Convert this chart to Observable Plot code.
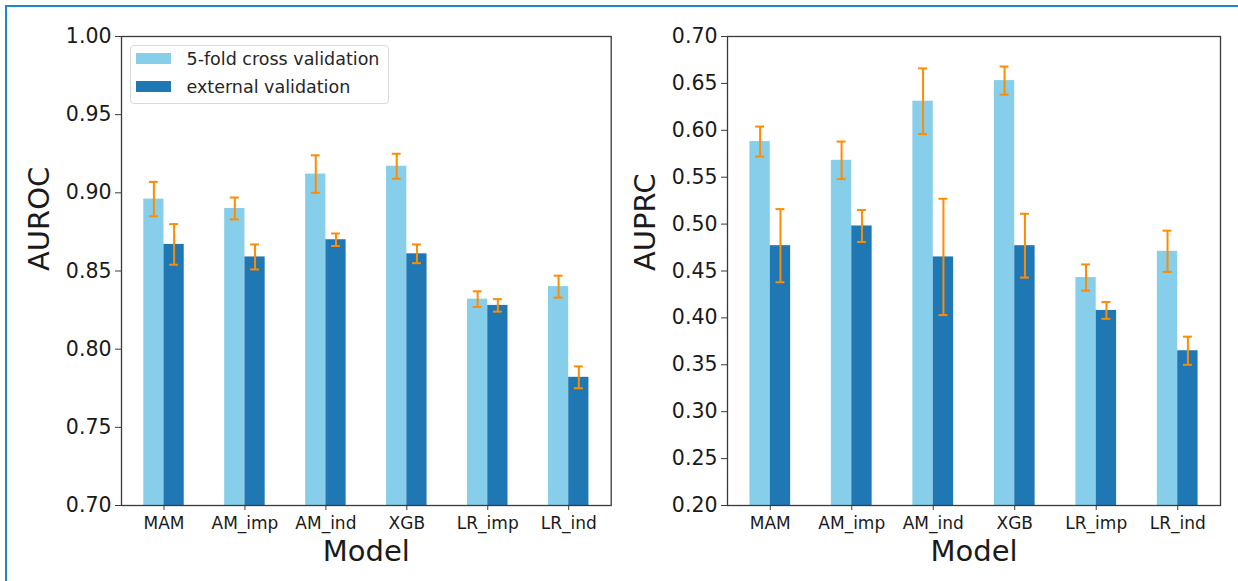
<!DOCTYPE html>
<html>
<head>
<meta charset="utf-8">
<script src="https://cdn.jsdelivr.net/npm/d3@7"></script>
<script src="https://cdn.jsdelivr.net/npm/@observablehq/plot@0.6"></script>
<style>
  body { margin: 0; background: #fff; font-family: "DejaVu Sans", sans-serif; }
  #wrap { position: relative; width: 1238px; height: 581px; overflow: hidden; background: #fff; }
  .bTop { position: absolute; left: 5px; top: 5px; width: 1233px; height: 2px; background: #1e88c8; }
  .bLeft { position: absolute; left: 5px; top: 5px; width: 2px; height: 576px; background: #1e88c8; }
  #left { position: absolute; left: 0; top: 0; }
  #right { position: absolute; left: 620px; top: 0; }
  .legend { position: absolute; left: 129.5px; top: 45px; width: 257px; height: 57px;
            border: 1px solid #d9d9d9; border-radius: 4px; background: rgba(255,255,255,0.85); }
  .sw { position: absolute; left: 136px; width: 35px; height: 11.5px; }
  .lt { position: absolute; left: 186.5px; font-size: 17.5px; color: #262626; line-height: 20px; white-space: nowrap; }
</style>
</head>
<body>
<div id="wrap">
  <div id="left"></div>
  <div id="right"></div>
  <div class="legend"></div>
  <div class="sw" id="sw0" style="top:52.7px;"></div>
  <div class="lt" id="lt0" style="top:48.5px;"></div>
  <div class="sw" id="sw1" style="top:80.7px;"></div>
  <div class="lt" id="lt1" style="top:76.5px;"></div>
  <div class="bTop"></div>
  <div class="bLeft"></div>
</div>
<script>
// ---- data ----
const models = ["MAM", "AM_imp", "AM_ind", "XGB", "LR_imp", "LR_ind"];
const seriesNames = ["5-fold cross validation", "external validation"];
const seriesColors = ["#87ceeb", "#1f77b4"];

const aurocCV     = [0.896, 0.890, 0.912, 0.917, 0.832, 0.840];
const aurocCVErr  = [0.011, 0.007, 0.012, 0.008, 0.005, 0.007];
const aurocExt    = [0.867, 0.859, 0.870, 0.861, 0.828, 0.782];
const aurocExtErr = [0.013, 0.008, 0.004, 0.006, 0.004, 0.007];

const auprcCV     = [0.588, 0.568, 0.631, 0.653, 0.443, 0.471];
const auprcCVErr  = [0.016, 0.020, 0.035, 0.015, 0.014, 0.022];
const auprcExt    = [0.477, 0.498, 0.465, 0.477, 0.408, 0.365];
const auprcExtErr = [0.039, 0.017, 0.062, 0.034, 0.009, 0.015];

const aurocTicks = [0.70, 0.75, 0.80, 0.85, 0.90, 0.95, 1.00];
const auprcTicks = [0.20, 0.25, 0.30, 0.35, 0.40, 0.45, 0.50, 0.55, 0.60, 0.65, 0.70];

// ---- chart builder ----
const BAR = 0.25, CAP = 0.055;
function buildRows(cv, cvErr, ext, extErr) {
  return models.flatMap((m, i) => [
    {model: m, series: seriesNames[0], x1: i - BAR, x2: i, v: cv[i], e: cvErr[i]},
    {model: m, series: seriesNames[1], x1: i, x2: i + BAR, v: ext[i], e: extErr[i]}
  ]);
}

function chart(rows, ticks, yLabel, w, mL, mR) {
  const c = d => (d.x1 + d.x2) / 2;
  const orange = "#ff8c00";
  return Plot.plot({
    width: w, height: 581,
    marginLeft: mL, marginRight: mR, marginTop: 36, marginBottom: 76,
    style: {fontFamily: "DejaVu Sans", color: "#1a1a1a", background: "transparent", overflow: "visible"},
    x: {type: "linear", domain: [-0.525, models.length - 1 + 0.525], axis: null},
    y: {domain: [ticks[0], ticks[ticks.length - 1]], axis: null},
    color: {domain: seriesNames, range: seriesColors},
    marks: [
      Plot.rect(rows, {x1: "x1", x2: "x2", y1: () => 0, y2: "v", fill: "series", clip: true}),
      Plot.ruleX(rows, {x: c, y1: d => d.v - d.e, y2: d => d.v + d.e, stroke: orange, strokeWidth: 2}),
      Plot.ruleY(rows, {y: d => d.v + d.e, x1: d => c(d) - CAP, x2: d => c(d) + CAP, stroke: orange, strokeWidth: 2}),
      Plot.ruleY(rows, {y: d => d.v - d.e, x1: d => c(d) - CAP, x2: d => c(d) + CAP, stroke: orange, strokeWidth: 2}),
      Plot.frame({stroke: "#3a3a3a", strokeWidth: 1.3}),
      Plot.axisX(models.map((m, i) => i), {tickFormat: i => models[i], fontSize: 17, tickSize: 5, tickPadding: 6, label: null, stroke: "#3a3a3a"}),
      Plot.axisY(ticks, {tickFormat: d3.format(".2f"), fontSize: 20.5, tickSize: 6, tickPadding: 4, label: null, stroke: "#3a3a3a"}),
      Plot.text(["Model"], {frameAnchor: "bottom", lineAnchor: "top", dy: 35, fontSize: 29, text: d => d, fill: "#1a1a1a"}),
      Plot.text([yLabel], {frameAnchor: "left", rotate: -90, dx: -82, fontSize: 29, text: d => d, fill: "#1a1a1a"})
    ]
  });
}

document.getElementById("left").append(
  chart(buildRows(aurocCV, aurocCVErr, aurocExt, aurocExtErr), aurocTicks, "AUROC", 620, 121, 9.3)
);
document.getElementById("right").append(
  chart(buildRows(auprcCV, auprcCVErr, auprcExt, auprcExtErr), auprcTicks, "AUPRC", 618, 107, 18)
);

// legend
seriesNames.forEach((s, k) => {
  document.getElementById("sw" + k).style.background = seriesColors[k];
  document.getElementById("lt" + k).textContent = s;
});
</script>
</body>
</html>
